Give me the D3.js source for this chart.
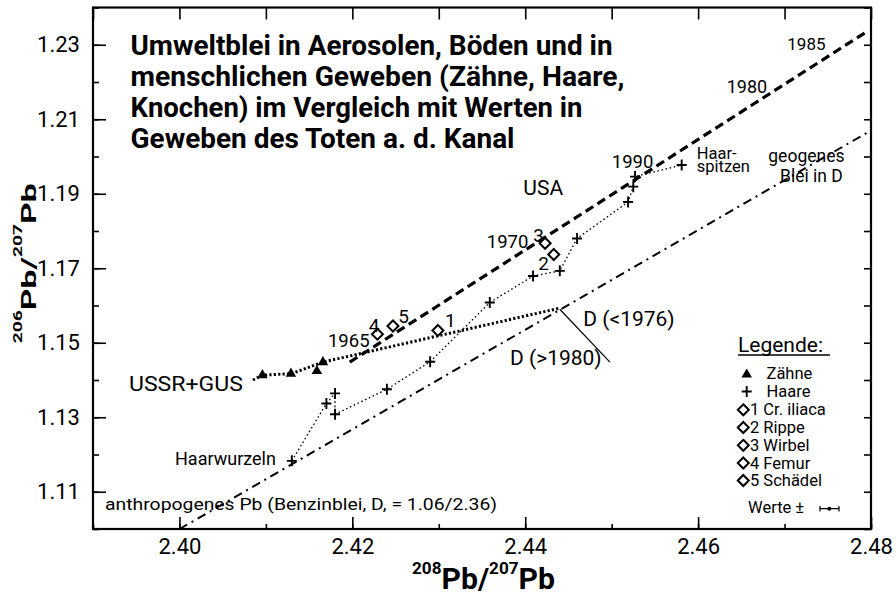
<!DOCTYPE html>
<html>
<head>
<meta charset="utf-8">
<script src="https://cdn.jsdelivr.net/npm/d3@7"></script>
<style>
  body { margin: 0; background: #fff; }
  svg text { font-family: Roboto, "DejaVu Sans", sans-serif; fill: #000; }
</style>
</head>
<body>
<svg id="chart" width="896" height="593"></svg>
<script>
// ---- axis ticks ----
const xTickLabels = [2.40, 2.42, 2.44, 2.46, 2.48];
const yTickLabels = [1.11, 1.13, 1.15, 1.17, 1.19, 1.21, 1.23];

// ---- Zähne (teeth) ----
const teethX = [2.4096, 2.4129, 2.4159, 2.4166];
const teethY = [1.1413, 1.1417, 1.1424, 1.1448];

// ---- Haare (hair), from root to tip ----
const hairX = [2.4130, 2.4170, 2.4180, 2.4180, 2.4240, 2.4290, 2.4359, 2.4409, 2.4440, 2.4460, 2.4519, 2.4525, 2.4527, 2.4581];
const hairY = [1.1183, 1.1337, 1.1364, 1.1308, 1.1375, 1.1449, 1.1608, 1.1679, 1.1693, 1.1780, 1.1878, 1.1919, 1.1946, 1.1977];

// ---- bones: 1 Cr. iliaca, 2 Rippe, 3 Wirbel, 4 Femur, 5 Schädel ----
const boneNo = ["1", "2", "3", "4", "5"];
const boneName = ["Cr. iliaca", "Rippe", "Wirbel", "Femur", "Schädel"];
const boneX = [2.4299, 2.4433, 2.4423, 2.4229, 2.4247];
const boneY = [1.1533, 1.1737, 1.1767, 1.1523, 1.1545];

// ---- trend lines ----
const usaX = [2.4197, 2.4793];
const usaY = [1.1448, 1.2332];
const ussrX = [2.4085, 2.4096, 2.4129, 2.4166, 2.4440];
const ussrY = [1.1400, 1.1413, 1.1417, 1.1448, 1.1593];
const geoX = [2.4000, 2.4800];
const geoY = [1.1000, 1.2070];
const leaderX = [2.4440, 2.4498];
const leaderY = [1.1590, 1.1448];

// ---- annotations (anchored in data units; w = stretched width) ----
const notes = [
  { t: ["1965"], x: 2.41718, y: 1.14894, fs: 18.5 },
  { t: ["4"], x: 2.42190, y: 1.15297, fs: 19 },
  { t: ["5"], x: 2.42532, y: 1.15522, fs: 19 },
  { t: ["1"], x: 2.43072, y: 1.15431, fs: 19 },
  { t: ["1970"], x: 2.43555, y: 1.17536, fs: 18.5 },
  { t: ["3"], x: 2.44094, y: 1.17713, fs: 19 },
  { t: ["2"], x: 2.44152, y: 1.16953, fs: 19 },
  { t: ["USA"], x: 2.43978, y: 1.18966, fs: 21 },
  { t: ["1990"], x: 2.45001, y: 1.19683, fs: 18.5 },
  { t: ["1980"], x: 2.46331, y: 1.21697, fs: 18 },
  { t: ["1985"], x: 2.47032, y: 1.22859, fs: 17 },
  { t: ["Haar-", "spitzen"], x: 2.45984, y: 1.19933, fs: 16.5, lh: 13.5 },
  { t: ["geogenes", "Blei in D"], x: 2.46812, y: 1.19839, fs: 17.5, lh: 19.3, dx2: 11.7 },
  { t: ["USSR+GUS"], x: 2.39416, y: 1.13713, fs: 21, w: 114 },
  { t: ["Haarwurzeln"], x: 2.39949, y: 1.11718, fs: 18 },
  { t: ["anthropogenes Pb (Benzinblei, D, = 1.06/2.36)"], x: 2.39139, y: 1.10510, fs: 16.5, w: 392 },
  { t: ["D (<1976)"], x: 2.44672, y: 1.15450, fs: 21 },
  { t: ["D (>1980)"], x: 2.43824, y: 1.14403, fs: 21 }
];

const titleLines = [
  "Umweltblei in Aerosolen, Böden und in",
  "menschlichen Geweben (Zähne, Haare,",
  "Knochen) im Vergleich mit Werten in",
  "Geweben des Toten a. d. Kanal"
];
const titleWidths = [482, 494, 452, 384];

// ---- layout ----
const svg = d3.select("#chart");
const pL = 93, pR = 871, pT = 7.5, pB = 529;
const x = d3.scaleLinear().domain([2.39, 2.48]).range([pL, pR]);
const y = d3.scaleLinear().domain([1.10, 1.24]).range([pB, pT]);

svg.append("defs").append("clipPath").attr("id", "plotClip")
  .append("rect").attr("x", pL).attr("y", pT)
  .attr("width", pR - pL).attr("height", pB - pT);

// tick marks (all pointing inward)
const minorX = d3.range(0, 10).map(i => 2.39 + i * 0.01);
const minorY = d3.range(0, 15).map(i => 1.10 + i * 0.01);

function styleAxis(g) {
  g.select(".domain").remove();
  g.selectAll("line").attr("stroke", "#000").attr("stroke-width", 1.6);
  g.attr("font-family", null).attr("font-size", null);
  g.selectAll("text").style("font-size", "22px");
}

svg.append("g").attr("transform", `translate(0,${pB})`)
  .call(d3.axisBottom(x).tickValues(minorX).tickSizeInner(-5).tickSizeOuter(0).tickFormat(""))
  .call(styleAxis);
svg.append("g").attr("transform", `translate(0,${pB})`)
  .call(d3.axisBottom(x).tickValues(xTickLabels).tickSizeInner(-12).tickSizeOuter(0)
    .tickPadding(9).tickFormat(d3.format(".2f")))
  .call(styleAxis);
svg.append("g").attr("transform", `translate(0,${pT})`)
  .call(d3.axisTop(x).tickValues(minorX).tickSizeInner(-12).tickSizeOuter(0).tickFormat(""))
  .call(styleAxis);
svg.append("g").attr("transform", `translate(${pL},0)`)
  .call(d3.axisLeft(y).tickValues(minorY).tickSizeInner(-6).tickSizeOuter(0).tickFormat(""))
  .call(styleAxis);
svg.append("g").attr("transform", `translate(${pL},0)`)
  .call(d3.axisLeft(y).tickValues(yTickLabels).tickSizeInner(-13).tickSizeOuter(0)
    .tickPadding(13).tickFormat(d3.format(".2f")))
  .call(styleAxis);
svg.append("g").attr("transform", `translate(${pR},0)`)
  .call(d3.axisRight(y).tickValues(minorY).tickSizeInner(-7).tickSizeOuter(0).tickFormat(""))
  .call(styleAxis);

// frame
svg.append("rect").attr("x", pL).attr("y", pT)
  .attr("width", pR - pL).attr("height", pB - pT)
  .attr("fill", "none").attr("stroke", "#000").attr("stroke-width", 2.2);

// lines
const plot = svg.append("g").attr("clip-path", "url(#plotClip)");
const line = d3.line().x(d => x(d[0])).y(d => y(d[1]));
const zip = (a, b) => a.map((v, i) => [v, b[i]]);

plot.append("path").datum(zip(geoX, geoY)).attr("d", line)
  .attr("fill", "none").attr("stroke", "#000").attr("stroke-width", 2)
  .attr("stroke-dasharray", "9,5,2,5");
plot.append("path").datum(zip(usaX, usaY)).attr("d", line)
  .attr("fill", "none").attr("stroke", "#000").attr("stroke-width", 3.2)
  .attr("stroke-dasharray", "9,5");
plot.append("path").datum(zip(ussrX, ussrY)).attr("d", line)
  .attr("fill", "none").attr("stroke", "#000").attr("stroke-width", 3)
  .attr("stroke-dasharray", "2.2,2.2");
plot.append("path").datum(zip(hairX, hairY)).attr("d", line)
  .attr("fill", "none").attr("stroke", "#000").attr("stroke-width", 1.3)
  .attr("stroke-dasharray", "1.6,2.6");
plot.append("path").datum(zip(leaderX, leaderY)).attr("d", line)
  .attr("fill", "none").attr("stroke", "#000").attr("stroke-width", 1.2);

// markers
const tri = d3.symbol().type(d3.symbolTriangle).size(48);
function drawTriangle(g, cx, cy) {
  g.append("path").attr("d", tri()).attr("transform", `translate(${cx},${cy})`).attr("fill", "#000");
}
function drawCross(g, cx, cy) {
  g.append("path").attr("d", `M${cx - 5},${cy}H${cx + 5}M${cx},${cy - 5.5}V${cy + 5.5}`)
    .attr("stroke", "#000").attr("stroke-width", 1.9).attr("fill", "none");
}
function drawDiamond(g, cx, cy) {
  const r = 5.5;
  g.append("path").attr("d", `M${cx},${cy - r}L${cx + r},${cy}L${cx},${cy + r}L${cx - r},${cy}Z`)
    .attr("stroke", "#000").attr("stroke-width", 2).attr("fill", "#fff");
}

const marks = svg.append("g");
teethX.forEach((v, i) => drawTriangle(marks, x(v), y(teethY[i])));
hairX.forEach((v, i) => drawCross(marks, x(v), y(hairY[i])));
boneX.forEach((v, i) => drawDiamond(marks, x(v), y(boneY[i])));

// annotations (multi-line ones as tspans)
const noteText = svg.append("g").selectAll("text").data(notes).join("text")
  .attr("x", d => x(d.x)).attr("y", d => y(d.y))
  .style("font-size", d => d.fs + "px")
  .attr("textLength", d => d.w || null)
  .attr("lengthAdjust", d => d.w ? "spacingAndGlyphs" : null);
noteText.each(function (d) {
  const el = d3.select(this);
  if (d.t.length === 1) { el.text(d.t[0]); return; }
  d.t.forEach((s, i) => {
    el.append("tspan")
      .attr("x", x(d.x) + (i > 0 && d.dx2 ? d.dx2 : 0))
      .attr("dy", i === 0 ? 0 : d.lh)
      .text(s);
  });
});

// title
const title = svg.append("g").attr("transform", "translate(130.5,0)");
titleLines.forEach((t, i) => {
  title.append("text").attr("x", 0).attr("y", 54.5 + i * 31)
    .style("font-size", "27px").style("font-weight", 700)
    .attr("textLength", titleWidths[i]).attr("lengthAdjust", "spacingAndGlyphs")
    .text(t);
});

// axis titles
const xt = svg.append("text").attr("x", 483.5).attr("y", 589)
  .attr("text-anchor", "middle").style("font-weight", 700)
  .attr("textLength", 143).attr("lengthAdjust", "spacingAndGlyphs");
xt.append("tspan").style("font-size", "17px").attr("dy", -15).text("208");
xt.append("tspan").style("font-size", "30px").attr("dy", 15).text("Pb/");
xt.append("tspan").style("font-size", "17px").attr("dy", -15).text("207");
xt.append("tspan").style("font-size", "30px").attr("dy", 15).text("Pb");

const yt = svg.append("text").attr("transform", "translate(35.5,263.3) rotate(-90)")
  .attr("text-anchor", "middle").style("font-weight", 700)
  .attr("textLength", 160).attr("lengthAdjust", "spacingAndGlyphs");
yt.append("tspan").style("font-size", "12px").attr("dy", -14).text("206");
yt.append("tspan").style("font-size", "21px").attr("dy", 14).text("Pb/");
yt.append("tspan").style("font-size", "12px").attr("dy", -14).text("207");
yt.append("tspan").style("font-size", "21px").attr("dy", 14).text("Pb");

// legend
const lg = svg.append("g");
lg.append("text").attr("x", 738).attr("y", 351.5).style("font-size", "21px").text("Legende:");
lg.append("line").attr("x1", 738).attr("x2", 830).attr("y1", 355).attr("y2", 355)
  .attr("stroke", "#000").attr("stroke-width", 1.3);
const rowY = [373.5, 391.5, 409.8, 427.5, 445.3, 463, 480.5];
drawTriangle(lg, 746.7, rowY[0] + 1);
lg.append("text").attr("x", 766.5).attr("y", rowY[0] + 5.5).style("font-size", "16.5px").text("Zähne");
drawCross(lg, 746.7, rowY[1]);
lg.append("text").attr("x", 766.5).attr("y", rowY[1] + 5.5).style("font-size", "16.5px").text("Haare");
boneNo.forEach((n, i) => {
  drawDiamond(lg, 743.3, rowY[i + 2]);
  lg.append("text").attr("x", 750).attr("y", rowY[i + 2] + 5.5)
    .style("font-size", "16.5px").text(n + " " + boneName[i]);
});
lg.append("text").attr("x", 748).attr("y", 513).style("font-size", "16.5px").text("Werte ±");
lg.append("path").attr("d", "M820,508.7H839M820,506V511.4M839,506V511.4")
  .attr("stroke", "#000").attr("stroke-width", 1.2).attr("fill", "none");
lg.append("circle").attr("cx", 829.3).attr("cy", 508.7).attr("r", 2).attr("fill", "#000");
</script>
</body>
</html>
